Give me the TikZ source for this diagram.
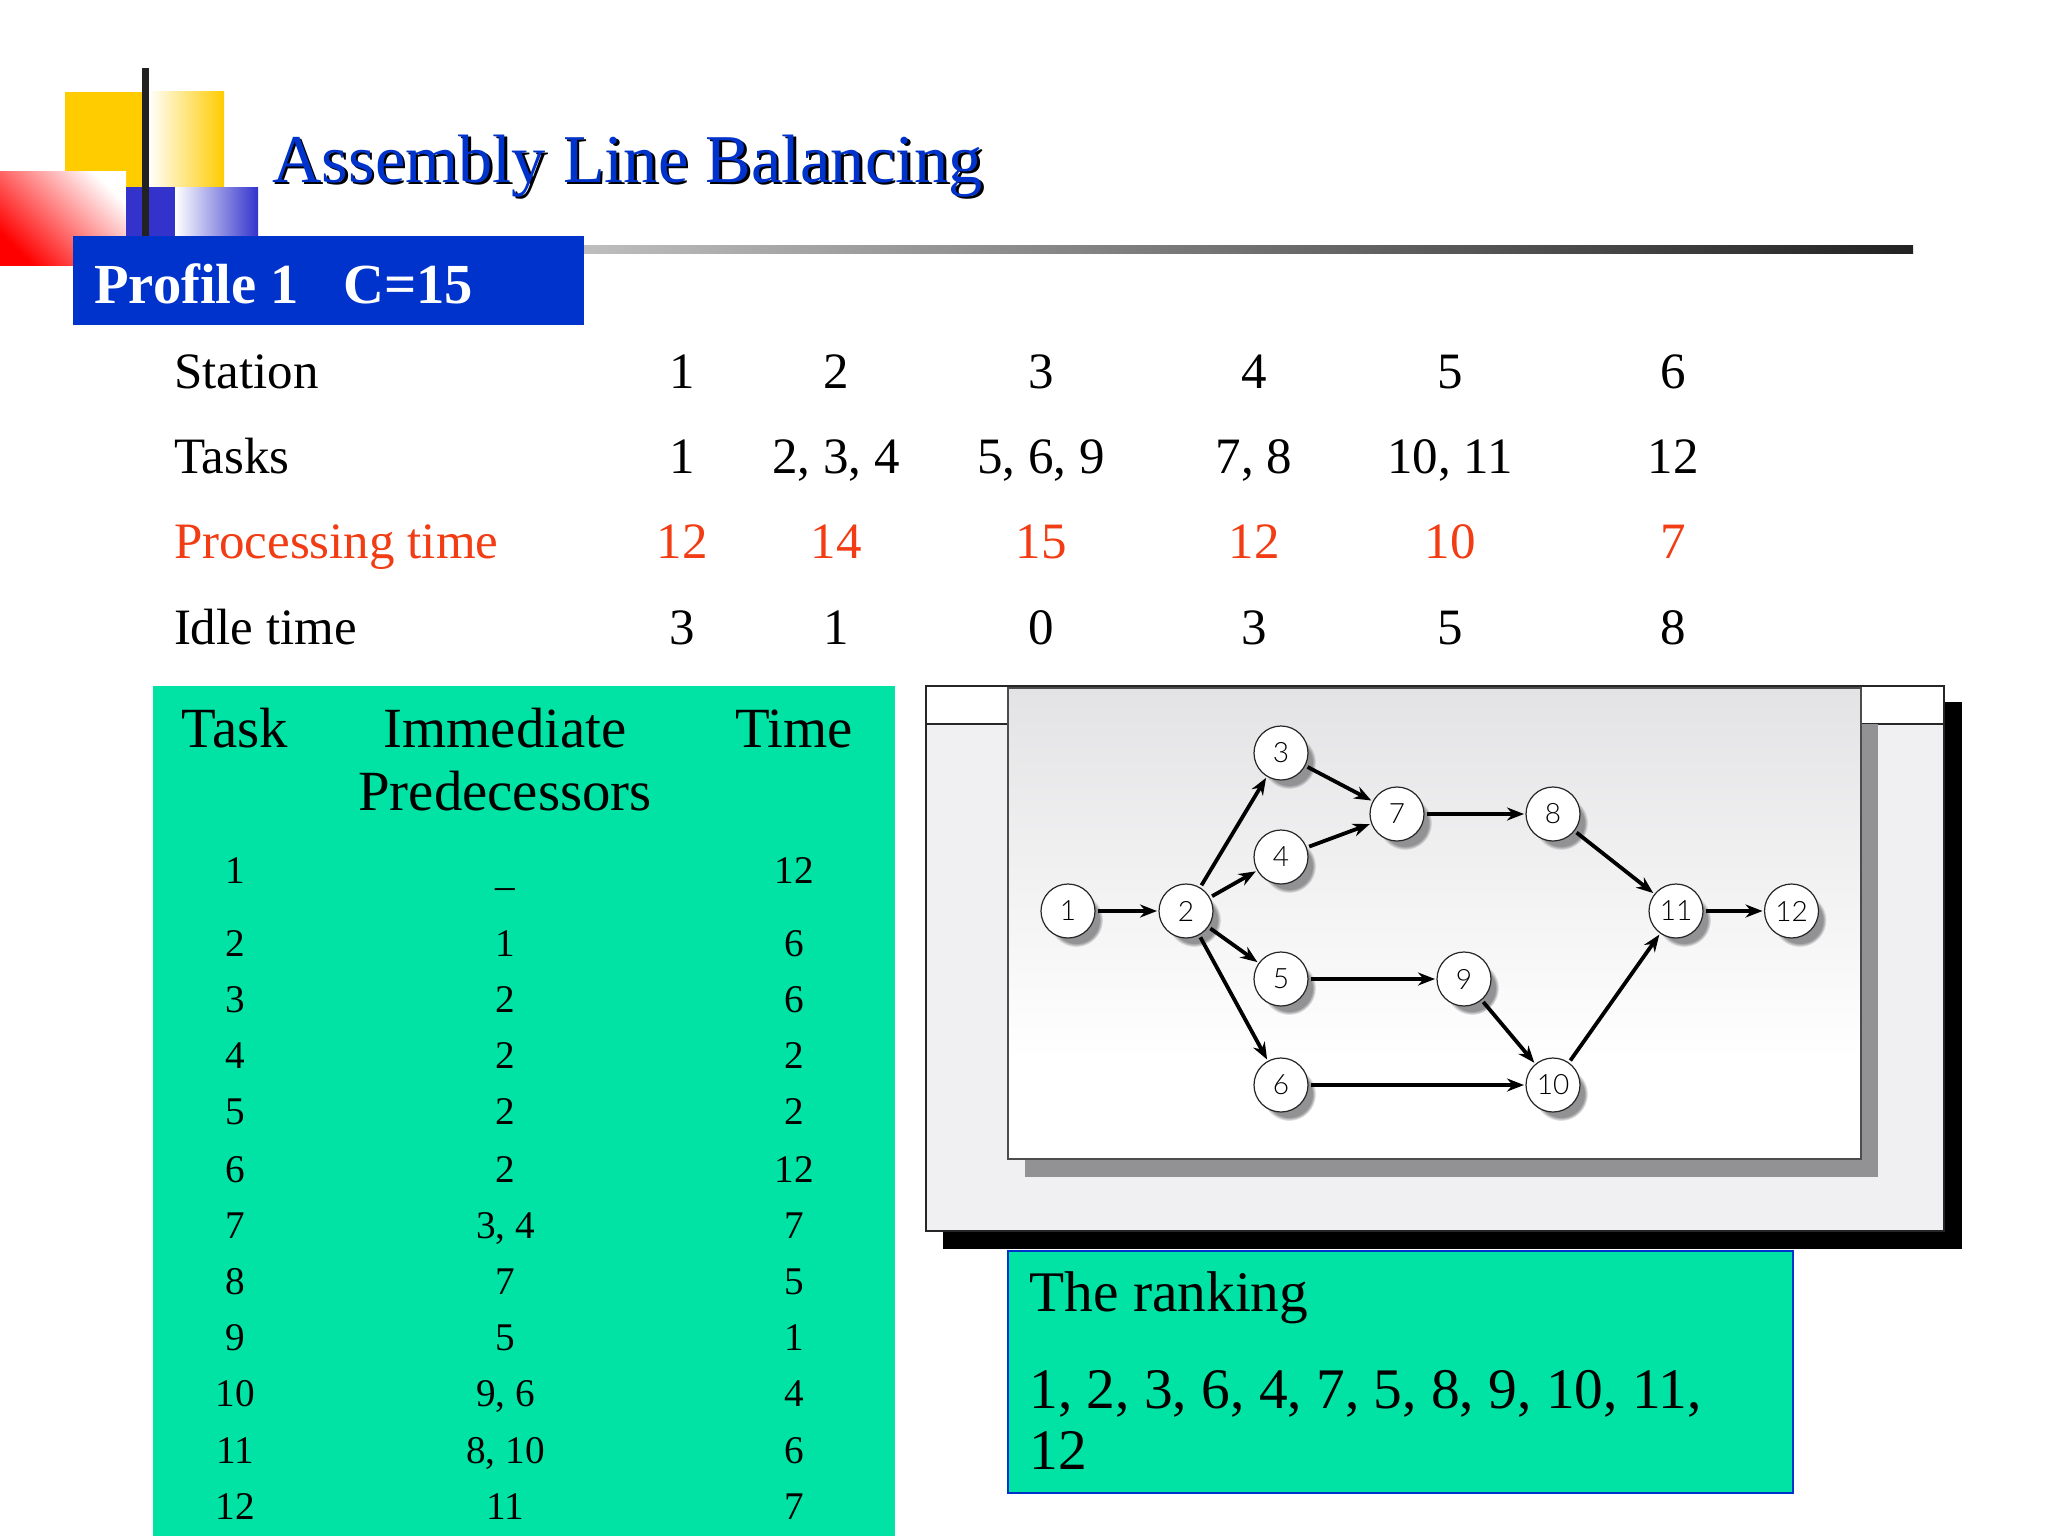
\documentclass[tikz,border=0pt]{standalone}
\usepackage{fontspec}
\setmainfont{Liberation Serif}
\newfontfamily\circfont{Lato Light}
\usetikzlibrary{shadows,arrows.meta}
\definecolor{ygold}{HTML}{FFCC00}
\definecolor{dblue}{HTML}{3333CC}
\definecolor{hblue}{HTML}{0033CC}
\definecolor{pgreen}{HTML}{00E3A4}
\definecolor{oran}{HTML}{F23C14}
\definecolor{barblk}{HTML}{222222}
\definecolor{bargrey}{HTML}{BEBEBE}
\definecolor{shgrey}{HTML}{929294}
\definecolor{frameg}{HTML}{F0F0F2}
\definecolor{paneltop}{HTML}{E3E3E5}
\newcommand{\fs}[1]{\fontsize{#1}{#1}\selectfont}
\tikzset{
  txt/.style={anchor=base,inner sep=0pt,outer sep=0pt,font=\fs{25.5}},
  lbl/.style={txt,anchor=base west},
  hdr/.style={anchor=base,inner sep=0pt,font=\fs{28.4}},
  row/.style={anchor=base,inner sep=0pt,font=\fs{19.6}},
  rank/.style={anchor=base west,inner sep=0pt,font=\fs{28.7}},
  netnode/.style={circle,draw=black!85,line width=0.6pt,fill=white,minimum size=27pt,inner sep=0pt,outer sep=0pt,
    font=\circfont\fs{14},circular drop shadow={shadow xshift=4pt,shadow yshift=-4.5pt,fill=shgrey,opacity=1,shadow scale=1}},
  link/.style={line width=1.9pt,-{Stealth[length=8.5pt,width=6.5pt]},shorten >=1pt,shorten <=1.5pt}
}
\begin{document}
\begin{tikzpicture}[x=0.5pt,y=-0.5pt]
\useasboundingbox (0,0) rectangle (2048,1536);
\fill[white] (0,0) rectangle (2048,1536);
% decoration
\fill[ygold] (65,92) rectangle (148,187);
\shade[left color=white,right color=ygold,draw=none] (148,92) rectangle (224,187);
\shade[left color=red,right color=white,shading angle=135,draw=none] (0,171) rectangle (126,265);
\fill[dblue] (126,187) rectangle (175,236);
\shade[left color=white,right color=dblue,draw=none] (175,187) rectangle (258,236);
\fill[barblk] (142,68) rectangle (149,236);
\shade[left color=bargrey,right color=barblk,draw=none] (584,245) rectangle (1913,253);
\fill[hblue] (73,236) rectangle (584,325);
% title
\node[anchor=base west,inner sep=0pt,text=black,font=\fs{34.2}] (titleshadow) at (274.5,184.5) {Assembly Line Balancing};
\node[anchor=base west,inner sep=0pt,text=hblue,font=\fs{34.2}] (title) at (272,182) {Assembly Line Balancing};
\node[anchor=base west,inner sep=0pt,text=white,font=\bfseries\fs{28.3}] (profile) at (94,303) {Profile 1\hspace{0.78em}C=15};
% top table
\node[lbl] (l1) at (174,388) {Station};
\node[lbl] (l2) at (174,473) {Tasks};
\node[lbl,text=oran] (l3) at (174,558) {Processing time};
\node[lbl] (l4) at (174,644) {Idle time};
\foreach \n/\x/\a/\b/\c/\d in {1/682/1/1/12/3,2/836/2/{2, 3, 4}/14/1,3/1041/3/{5, 6, 9}/15/0,4/1254/4/{7, 8}/12/3,5/1450/5/{10, 11}/10/5,6/1673/6/12/7/8}{
  \node[txt] (st\n) at (\x,388) {\a};
  \node[txt] (ta\n) at (\x,473) {\b};
  \node[txt,text=oran] (pt\n) at (\x,558) {\c};
  \node[txt] (id\n) at (\x,644) {\d};
}
% green table
\fill[pgreen] (153,686) rectangle (895,1536);
\node[hdr] (h1) at (235,747) {Task};
\node[hdr] (h2) at (505,747) {Immediate};
\node[hdr] (h2b) at (505,810) {Predecessors};
\node[hdr] (h3) at (794,747) {Time};
\foreach \n/\a/\b/\y in {2/1/6/956,3/2/6/1012,4/2/2/1068,5/2/2/1124,6/2/12/1182,7/{3, 4}/7/1238,8/7/5/1294,9/5/1/1350,10/{9, 6}/4/1406,11/{8, 10}/6/1463,12/11/7/1519}{
  \node[row] (ra\n) at (235.5,\y) {\n};
  \node[row] (rb\n) at (505.5,\y) {\a};
  \node[row] (rc\n) at (794,\y) {\b};
}
\node[row] (ra1) at (235.5,883) {1};
\node[row] (rb1) at (505.5,885) {\_};
\node[row] (rc1) at (794,883) {12};
% figure frame
\fill[black] (943,702) rectangle (1962,1249);
\fill[frameg] (926,686) rectangle (1944,1231);
\fill[white] (926,686) rectangle (1944,724);
\draw[black!85,line width=1pt] (926,686) rectangle (1944,1231);
\draw[black!85,line width=0.6pt] (926,724) -- (1944,724);
\fill[shgrey] (1025,724) rectangle (1878,1177);
\shade[top color=paneltop,bottom color=white,draw=none] (1008,688) rectangle (1861,1060);
\fill[white] (1008,1060) rectangle (1861,1159);
\draw[black!70,line width=0.8pt] (1008,688) rectangle (1861,1159);
% network
\node[netnode] (n1) at (1068,911) {1};
\node[netnode] (n2) at (1186,911) {2};
\node[netnode] (n3) at (1281,753) {3};
\node[netnode] (n4) at (1281,857) {4};
\node[netnode] (n5) at (1281,979) {5};
\node[netnode] (n6) at (1281,1085) {6};
\node[netnode] (n7) at (1397,814) {7};
\node[netnode] (n8) at (1553,814) {8};
\node[netnode] (n9) at (1464,979) {9};
\node[netnode] (n10) at (1553,1085) {10};
\node[netnode] (n11) at (1676,911) {11};
\node[netnode] (n12) at (1791.5,911) {12};
\foreach \a/\b in {n1/n2,n2/n3,n2/n4,n2/n5,n2/n6,n3/n7,n4/n7,n7/n8,n8/n11,n5/n9,n9/n10,n6/n10,n10/n11,n11/n12}{
  \draw[link] (\a) -- (\b);
}
% ranking
\draw[fill=pgreen,draw=hblue,line width=0.8pt] (1008,1251) rectangle (1793,1493);
\node[rank] (r1) at (1029,1311) {The ranking};
\node[rank] (r2) at (1029,1408) {1, 2, 3, 6, 4, 7, 5, 8, 9, 10, 11,};
\node[rank] (r3) at (1029,1469) {12};
\end{tikzpicture}
\end{document}
